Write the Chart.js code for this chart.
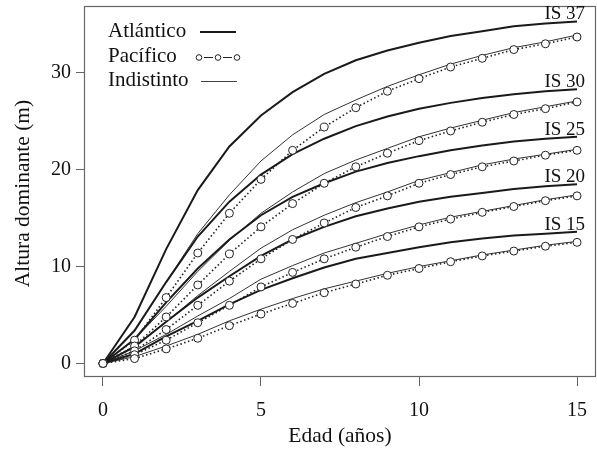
<!DOCTYPE html>
<html>
<head>
<meta charset="UTF-8">
<title>Altura dominante</title>
<script src="https://cdn.jsdelivr.net/npm/chart.js@4/dist/chart.umd.min.js"></script>
<style>
  body { margin: 0; background: #fff; }
  canvas { display: block; }
</style>
</head>
<body>
<canvas id="canvas" width="597" height="451"></canvas>
<script>
// edades (años)
const edades = [0, 1, 2, 3, 4, 5, 6, 7, 8, 9, 10, 11, 12, 13, 14, 15];
const indices = ['IS 15', 'IS 20', 'IS 25', 'IS 30', 'IS 37'];

// Atlántico
const atl15 = [0, 1.0, 2.8, 4.4, 6.1, 7.6, 8.8, 9.9, 10.8, 11.4, 12.0, 12.5, 12.9, 13.2, 13.4, 13.6];
const atl20 = [0, 1.7, 4.3, 6.8, 9.0, 11.1, 12.8, 14.1, 15.2, 16.0, 16.7, 17.2, 17.6, 18.0, 18.3, 18.5];
const atl25 = [0, 2.5, 6.3, 9.8, 12.8, 15.3, 17.2, 18.6, 19.8, 20.7, 21.4, 22.0, 22.5, 22.9, 23.2, 23.4];
const atl30 = [0, 3.4, 8.4, 13.1, 16.7, 19.5, 21.6, 23.2, 24.5, 25.5, 26.3, 26.9, 27.4, 27.8, 28.1, 28.3];
const atl37 = [0, 4.8, 11.8, 17.9, 22.4, 25.6, 28.0, 29.9, 31.3, 32.3, 33.1, 33.8, 34.3, 34.8, 35.1, 35.3];

// Pacífico
const pac15 = [0, 0.5, 1.5, 2.6, 3.9, 5.1, 6.2, 7.3, 8.2, 9.1, 9.8, 10.5, 11.1, 11.6, 12.1, 12.5];
const pac20 = [0, 0.9, 2.4, 4.2, 6.0, 7.9, 9.4, 10.8, 12.0, 13.1, 14.1, 14.9, 15.6, 16.2, 16.8, 17.3];
const pac25 = [0, 1.3, 3.5, 6.0, 8.5, 10.8, 12.8, 14.5, 16.1, 17.3, 18.6, 19.5, 20.3, 20.9, 21.5, 22.0];
const pac30 = [0, 1.8, 4.8, 8.1, 11.3, 14.1, 16.5, 18.6, 20.3, 21.7, 23.0, 24.0, 24.9, 25.7, 26.3, 27.0];
const pac37 = [0, 2.4, 6.8, 11.4, 15.5, 19.0, 22.0, 24.4, 26.4, 28.1, 29.4, 30.6, 31.5, 32.4, 33.0, 33.7];

// Indistinto
const ind15 = [0, 0.7, 1.8, 3.0, 4.4, 5.6, 6.7, 7.7, 8.5, 9.3, 10.0, 10.6, 11.2, 11.7, 12.2, 12.6];
const ind20 = [0, 1.3, 3.0, 4.9, 6.7, 8.7, 10.1, 11.4, 12.4, 13.4, 14.3, 15.1, 15.7, 16.3, 16.9, 17.4];
const ind25 = [0, 1.8, 4.3, 7.0, 9.5, 11.9, 13.8, 15.3, 16.6, 17.7, 18.9, 19.7, 20.5, 21.1, 21.6, 22.1];
const ind30 = [0, 2.5, 5.9, 9.5, 12.7, 15.5, 17.7, 19.6, 21.0, 22.2, 23.4, 24.3, 25.1, 25.9, 26.5, 27.1];
const ind37 = [0, 3.4, 8.4, 13.4, 17.4, 20.9, 23.6, 25.7, 27.2, 28.6, 29.8, 30.9, 31.8, 32.6, 33.2, 33.9];

const xTicks = [0, 5, 10, 15];
const yTicks = [0, 10, 20, 30];
const leyenda = ['Atlántico', 'Pacífico', 'Indistinto'];

const atlantico = [atl15, atl20, atl25, atl30, atl37];
const pacifico = [pac15, pac20, pac25, pac30, pac37];
const indistinto = [ind15, ind20, ind25, ind30, ind37];

const serif = '"Liberation Serif", "Times New Roman", serif';

function puntos(serie) {
  return edades.map(function (e, i) { return { x: e, y: serie[i] }; });
}

let datasets = [];
pacifico.forEach(function (s, k) {
  datasets.push({
    label: 'Pacífico ' + indices[k], data: puntos(s),
    borderColor: '#222', borderWidth: 1.6, borderDash: [1.5, 2.5],
    pointRadius: 4, pointBorderWidth: 1, pointBorderColor: '#222',
    pointBackgroundColor: '#fff', tension: 0, fill: false
  });
});
atlantico.forEach(function (s, k) {
  datasets.push({
    label: 'Atlántico ' + indices[k], data: puntos(s),
    borderColor: '#1a1a1a', borderWidth: 2, pointRadius: 0, tension: 0, fill: false
  });
});
indistinto.forEach(function (s, k) {
  datasets.push({
    label: 'Indistinto ' + indices[k], data: puntos(s),
    borderColor: '#333', borderWidth: 1, pointRadius: 0, tension: 0, fill: false
  });
});

function sinRelleno(s) {
  s.paddingTop = 0; s.paddingBottom = 0; s.paddingLeft = 0; s.paddingRight = 0;
}

const extras = {
  id: 'extras',
  afterDraw: function (chart) {
    const ctx = chart.ctx;
    const a = chart.chartArea;
    const xs = chart.scales.x, ys = chart.scales.y;
    ctx.save();
    // caja
    ctx.strokeStyle = '#666';
    ctx.lineWidth = 1.2;
    ctx.strokeRect(a.left + 0.5, a.top + 0.5, a.right - a.left - 1, a.bottom - a.top - 1);

    // etiquetas IS
    ctx.fillStyle = '#111';
    ctx.font = '19px ' + serif;
    ctx.textAlign = 'right';
    ctx.textBaseline = 'alphabetic';
    atlantico.forEach(function (s, k) {
      const last = s.length - 1;
      ctx.fillText(indices[k], xs.getPixelForValue(edades[last]) + 8, ys.getPixelForValue(s[last]) - 2);
    });

    // leyenda
    ctx.font = '21px ' + serif;
    ctx.textAlign = 'left';
    ctx.fillText(leyenda[0], 108, 37);
    ctx.fillText(leyenda[1], 108, 62);
    ctx.fillText(leyenda[2], 108, 86);
    ctx.strokeStyle = '#1a1a1a';
    ctx.lineWidth = 2;
    ctx.beginPath(); ctx.moveTo(200, 32); ctx.lineTo(236, 32); ctx.stroke();
    ctx.strokeStyle = '#444';
    ctx.lineWidth = 1;
    ctx.beginPath(); ctx.moveTo(201, 81.5); ctx.lineTo(237, 81.5); ctx.stroke();
    ctx.strokeStyle = '#222';
    ctx.lineWidth = 1;
    [199, 218, 237].forEach(function (cx, i) {
      ctx.beginPath(); ctx.arc(cx, 57.5, 2.8, 0, Math.PI * 2); ctx.stroke();
      if (i < 2) {
        ctx.beginPath(); ctx.moveTo(cx + 5, 57.5); ctx.lineTo(cx + 14, 57.5); ctx.stroke();
      }
    });

    // títulos de ejes
    ctx.fillStyle = '#111';
    ctx.font = '21.5px ' + serif;
    ctx.textAlign = 'center';
    ctx.fillText('Edad (años)', (a.left + a.right) / 2, 442);
    ctx.translate(29, (a.top + a.bottom) / 2 + 2);
    ctx.rotate(-Math.PI / 2);
    ctx.fillText('Altura dominante (m)', 0, 0);
    ctx.restore();
  }
};

const ctx = document.getElementById('canvas').getContext('2d');
new Chart(ctx, {
  type: 'line',
  data: { datasets: datasets },
  options: {
    responsive: false,
    animation: false,
    layout: { autoPadding: false, padding: { top: 6, right: 1, left: 0, bottom: 0 } },
    plugins: { legend: { display: false }, tooltip: { enabled: false } },
    scales: {
      x: {
        type: 'linear', min: -0.6, max: 15.6,
        border: { display: false },
        grid: { drawOnChartArea: false, drawTicks: true, tickLength: 9, color: '#666' },
        ticks: { font: { family: serif, size: 20 }, color: '#111', padding: 13, maxRotation: 0 },
        afterBuildTicks: function (s) { s.ticks = xTicks.map(function (v) { return { value: v }; }); },
        afterFit: function (s) { s.height = 74; sinRelleno(s); }
      },
      y: {
        type: 'linear', min: -1.4, max: 36.9,
        border: { display: false },
        grid: { drawOnChartArea: false, drawTicks: true, tickLength: 8, color: '#666' },
        ticks: { font: { family: serif, size: 20 }, color: '#111', padding: 5 },
        afterBuildTicks: function (s) { s.ticks = yTicks.map(function (v) { return { value: v }; }); },
        afterFit: function (s) { s.width = 84; sinRelleno(s); }
      }
    }
  },
  plugins: [extras]
});
</script>
</body>
</html>
